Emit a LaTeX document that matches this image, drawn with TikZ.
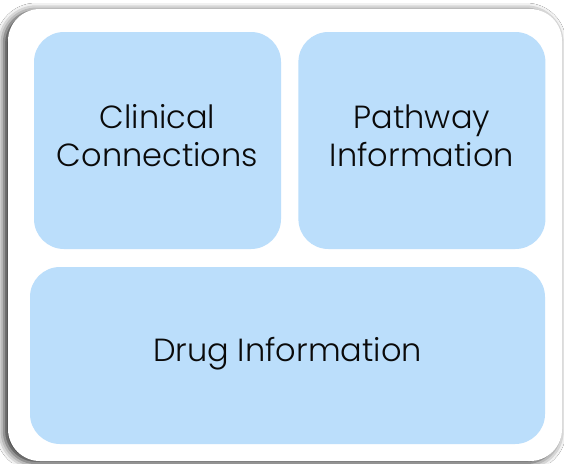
\documentclass[tikz,border=0pt]{standalone}
\usepackage{fontspec}
\setmainfont{Poppins}[UprightFont={* Light}]
\usetikzlibrary{positioning,shadows.blur}

\definecolor{panelblue}{HTML}{BBDEFB}
\definecolor{labelink}{HTML}{0A0A0A}

\tikzset{
  panel/.style={fill=panelblue, draw=none, rounded corners=30pt,
    align=center, text=labelink, font=\fontsize{32}{38}\selectfont,
    inner sep=0pt},
}

\begin{document}
\begin{tikzpicture}[x=1pt, y=-1pt]
  \useasboundingbox (0,0) rectangle (564,463);
  \fill[white] (0,0) rectangle (564,463);

  % white card behind the panels
  \node[fill=white, rounded corners=32pt, minimum width=554pt, minimum height=452pt,
    blur shadow={shadow xshift=-4pt, shadow yshift=-2pt, shadow blur radius=8pt, shadow opacity=85}]
    (card) at (285,235) {};

  \node[panel, minimum width=247pt, minimum height=217pt] (clinical) at (157.5,140.5) {};
  \node[panel, minimum width=247pt, minimum height=217pt] (pathway) [right=17pt of clinical] {};
  \node[panel, minimum width=515pt, minimum height=177pt] (drug) at (287.5,355.5) {};

  % labels sit a little above the panel centres
  \node[panel, fill=none] at ([yshift=5pt]clinical.center) {Clinical\\Connections};
  \node[panel, fill=none] at ([yshift=5pt]pathway.center) {Pathway\\Information};
  \node[panel, fill=none] at ([yshift=2pt]drug.center) {Drug Information};
\end{tikzpicture}
\end{document}
